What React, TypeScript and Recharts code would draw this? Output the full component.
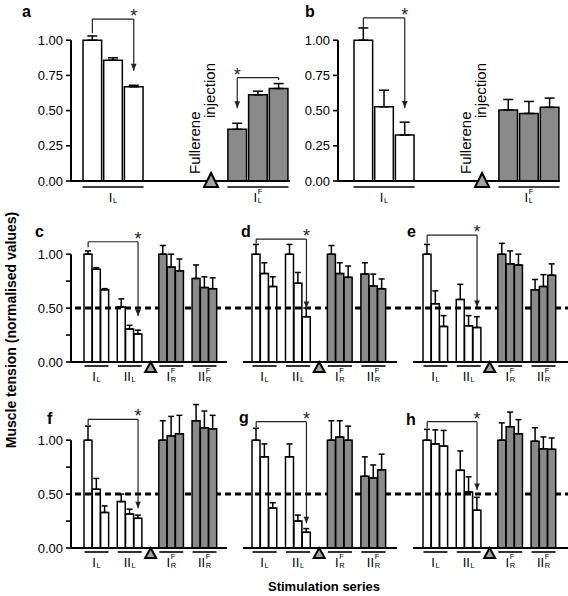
import React from 'react';
import {
  BarChart,
  Bar,
  XAxis,
  YAxis,
  ErrorBar,
  Cell,
  ReferenceLine,
  ReferenceDot,
  ComposedChart,
} from 'recharts';

const FONT = '"Liberation Sans", Arial, Helvetica, sans-serif';
const GRAY = '#8a8a8a';
const TRI_FILL = '#a3a3a3';

// ---------- data ----------
// Panel a: series I_L (S1, S2, S3) then I_L^F
const aWhite = [1.0, 0.858, 0.669];
const aWhiteErr = [0.03, 0.017, 0.011];
const aGray = [0.367, 0.612, 0.657];
const aGrayErr = [0.043, 0.026, 0.035];
// Panel b
const bWhite = [1.0, 0.527, 0.326];
const bWhiteErr = [0.087, 0.118, 0.092];
const bGray = [0.504, 0.48, 0.523];
const bGrayErr = [0.075, 0.085, 0.066];

// Panels c–h, groups in order I_L, II_L, I_R^F, II_R^F (3 stimulations each)
const cValues = [1.0, 0.86, 0.67, 0.51, 0.305, 0.26, 1.0, 0.88, 0.845, 0.775, 0.69, 0.68];
const cErrors = [0.03, 0.015, 0.01, 0.075, 0.035, 0.035, 0.08, 0.12, 0.11, 0.125, 0.1, 0.1];
const dValues = [1.0, 0.82, 0.7, 1.0, 0.73, 0.42, 1.0, 0.82, 0.785, 0.815, 0.705, 0.68];
const dErrors = [0.09, 0.1, 0.09, 0.09, 0.1, 0.08, 0.08, 0.1, 0.105, 0.105, 0.11, 0.09];
const eValues = [1.0, 0.54, 0.33, 0.58, 0.335, 0.32, 1.0, 0.91, 0.9, 0.67, 0.7, 0.805];
const eErrors = [0.09, 0.12, 0.1, 0.14, 0.095, 0.1, 0.1, 0.12, 0.1, 0.095, 0.11, 0.105];
const fValues = [1.0, 0.545, 0.33, 0.43, 0.315, 0.275, 1.0, 1.04, 1.06, 1.18, 1.115, 1.105];
const fErrors = [0.13, 0.1, 0.06, 0.07, 0.045, 0.03, 0.18, 0.18, 0.17, 0.15, 0.155, 0.125];
const gValues = [1.0, 0.845, 0.37, 0.845, 0.25, 0.145, 1.0, 1.03, 1.0, 0.665, 0.65, 0.725];
const gErrors = [0.11, 0.12, 0.05, 0.12, 0.055, 0.035, 0.18, 0.15, 0.13, 0.18, 0.12, 0.145];
const hValues = [1.0, 0.965, 0.945, 0.72, 0.52, 0.35, 1.0, 1.125, 1.06, 0.99, 0.92, 0.915];
const hErrors = [0.1, 0.13, 0.145, 0.18, 0.14, 0.12, 0.16, 0.135, 0.13, 0.125, 0.11, 0.105];

const row1Kinds = ['w', 'w', 'w', 'g', 'g', 'g'];
const row23Kinds = ['w', 'w', 'w', 'w', 'w', 'w', 'g', 'g', 'g', 'g', 'g', 'g'];

type Lab = { main: string; sub: string; sup?: string };
const row1Labels: Lab[] = [
  { main: 'I', sub: 'L' },
  { main: 'I', sub: 'L', sup: 'F' },
];
const row23Labels: Lab[] = [
  { main: 'I', sub: 'L' },
  { main: 'II', sub: 'L' },
  { main: 'I', sub: 'R', sup: 'F' },
  { main: 'II', sub: 'R', sup: 'F' },
];

const row1Ticks = [0, 0.25, 0.5, 0.75, 1];
const row23Ticks = [0, 0.25, 0.5, 0.75, 1];
const row23Labelled = [0, 0.5, 1];
const halfLevel = 0.5;

// significance brackets (bar indices and value levels)
type Bracket = { from: number; to: number; fromY: number; toY: number; level: number; arrow: 'from' | 'to' };
const aBrackets: Bracket[] = [
  { from: 0, to: 2, fromY: 1.05, toY: 0.783, level: 1.15, arrow: 'to' },
  { from: 3, to: 5, fromY: 0.516, toY: 0.717, level: 0.734, arrow: 'from' },
];
const bBrackets: Bracket[] = [{ from: 0, to: 2, fromY: 1.087, toY: 0.518, level: 1.158, arrow: 'to' }];
const cBrackets: Bracket[] = [{ from: 0, to: 5, fromY: 1.063, toY: 0.426, level: 1.115, arrow: 'to' }];
const dBrackets: Bracket[] = [{ from: 0, to: 5, fromY: 1.1, toY: 0.5, level: 1.14, arrow: 'to' }];
const eBrackets: Bracket[] = [{ from: 0, to: 5, fromY: 1.1, toY: 0.51, level: 1.177, arrow: 'to' }];
const fBrackets: Bracket[] = [{ from: 0, to: 5, fromY: 1.14, toY: 0.368, level: 1.193, arrow: 'to' }];
const gBrackets: Bracket[] = [{ from: 0, to: 5, fromY: 1.12, toY: 0.229, level: 1.171, arrow: 'to' }];
const hBrackets: Bracket[] = [{ from: 0, to: 5, fromY: 1.11, toY: 0.538, level: 1.171, arrow: 'to' }];

// ---------- layout ----------
const ROW1_PATTERN: (number | null)[] = [0, 1, 2, null, null, null, null, 3, 4, 5];
const ROW23_PATTERN: (number | null)[] = [0, 1, 2, null, 3, 4, 5, null, null, 6, 7, 8, null, 9, 10, 11];

type Row = { id: string; v: number | null; e?: [number, number]; kind?: string };

function buildSlots(prefix: string, pattern: (number | null)[], values: number[], errors: number[], kinds: string[]): Row[] {
  return pattern.map((bi, i) =>
    bi === null
      ? { id: `${prefix}${i}`, v: null }
      : { id: `${prefix}${i}`, v: values[bi], e: [0, errors[bi]] as [number, number], kind: kinds[bi] }
  );
}

const SUB_FS = 7.5;

function GroupLabel({ cx, y, lab }: { cx: number; y: number; lab: Lab }) {
  const mainW = lab.main.length * 0.278 * 13;
  const subW = (lab.sub === 'R' ? 0.722 : 0.556) * SUB_FS;
  const supW = lab.sup ? 0.611 * SUB_FS : 0;
  const gap = 0.6;
  const total = mainW + gap + Math.max(subW, supW);
  const x0 = cx - total / 2;
  return (
    <text x={x0} y={y} fontFamily={FONT} fill="#000" fontSize={13}>
      <tspan>{lab.main}</tspan>
      <tspan x={x0 + mainW + gap} dy={1} fontSize={SUB_FS}>
        {lab.sub}
      </tspan>
      {lab.sup ? (
        <tspan x={x0 + mainW + gap} dy={-8.6} fontSize={SUB_FS}>
          {lab.sup}
        </tspan>
      ) : null}
    </text>
  );
}

type PanelProps = {
  prefix: string;
  values: number[];
  errors: number[];
  kinds: string[];
  pattern: (number | null)[];
  labels: Lab[];
  brackets: Bracket[];
  left: number;
  top: number;
  width: number;
  height: number;
  marginTop: number;
  xAxisHeight: number;
  showY: boolean;
  yTicks: number[];
  yLabelled?: number[];
  domainMax: number;
  padL: number;
  padR: number;
  triSlot: number;
  triDx: number;
  tri: { up: number; down: number; half: number };
  underlineDy: number;
  labelDy: number;
  capW: number;
  arrowH: number;
};

const Y_W = 71;

function Panel(p: PanelProps) {
  const data = buildSlots(p.prefix, p.pattern, p.values, p.errors, p.kinds);
  const plotW = p.width - (p.showY ? Y_W : 0);
  const slotW = (plotW - p.padL - p.padR) / p.pattern.length;
  const slotId = (barIdx: number) => `${p.prefix}${p.pattern.indexOf(barIdx)}`;
  const labelBySlot: Record<string, Lab> = {};
  p.labels.forEach((lab, g) => {
    labelBySlot[slotId(3 * g + 1)] = lab;
  });

  const renderTick = (t: any) => {
    const lab = labelBySlot[t.payload?.value];
    if (!lab) return <g />;
    const x = t.x;
    const y = t.y;
    return (
      <g>
        <line
          x1={x - 1.5 * slotW + 0.5}
          x2={x + 1.5 * slotW - 0.5}
          y1={y + p.underlineDy}
          y2={y + p.underlineDy}
          stroke="#000"
          strokeWidth={1.6}
        />
        <GroupLabel cx={x} y={y + p.labelDy} lab={lab} />
      </g>
    );
  };

  const fmt = (v: number) => {
    if (p.yLabelled && !p.yLabelled.some((l) => Math.abs(l - v) < 1e-9)) return '';
    return v.toFixed(2);
  };

  const lineStyle = { stroke: '#222', strokeWidth: 1.2 };

  return (
    <div style={{ position: 'absolute', left: p.left, top: p.top }}>
      <BarChart
        width={p.width}
        height={p.height}
        data={data}
        margin={{ top: p.marginTop, right: 0, bottom: 0, left: 0 }}
        barCategoryGap={0}
        barGap={0}
      >
        <XAxis
          dataKey="id"
          type="category"
          interval={0}
          tickLine={false}
          tickSize={0}
          tickMargin={0}
          axisLine={{ stroke: '#000', strokeWidth: 2 }}
          height={p.xAxisHeight}
          padding={{ left: p.padL, right: p.padR }}
          tick={renderTick}
        />
        <XAxis xAxisId="frame" type="number" domain={[0, 1]} hide allowDataOverflow />
        <YAxis
          type="number"
          domain={[0, p.domainMax]}
          allowDataOverflow
          ticks={p.yTicks}
          interval={0}
          hide={!p.showY}
          width={Y_W}
          axisLine={false}
          tickLine={{ stroke: '#000', strokeWidth: 1.6 }}
          tickSize={5}
          tickMargin={3}
          tickFormatter={fmt}
          tick={{ fontSize: 13, fill: '#000', fontFamily: FONT }}
        />
        {p.showY ? (
          <ReferenceLine
            xAxisId="frame"
            segment={[
              { x: 0, y: 0 },
              { x: 0, y: 1 },
            ]}
            stroke="#000"
            strokeWidth={2}
          />
        ) : null}
        <Bar
          dataKey="v"
          isAnimationActive={false}
          stroke="#000"
          strokeWidth={1.5}
          barSize={Math.max(1, Math.round(slotW))}
        >
          {data.map((d, i) => (
            <Cell key={i} fill={d.kind === 'g' ? GRAY : 'none'} />
          ))}
          <ErrorBar
            dataKey="e"
            width={p.capW}
            stroke="#000"
            strokeWidth={1.5}
            direction="y"
            isAnimationActive={false}
          />
        </Bar>
        <ReferenceDot
          x={`${p.prefix}${p.triSlot}`}
          y={0}
          shape={(s: any) => {
            const cx = s.cx + p.triDx;
            const cy = s.cy;
            return (
              <path
                d={`M${cx},${cy - p.tri.up}L${cx + p.tri.half},${cy + p.tri.down}L${cx - p.tri.half},${cy + p.tri.down}Z`}
                fill={TRI_FILL}
                stroke="#000"
                strokeWidth={2}
              />
            );
          }}
        />
        {p.brackets.map((b, k) => {
          const fx = slotId(b.from);
          const tx = slotId(b.to);
          const ax = b.arrow === 'to' ? tx : fx;
          const ay = b.arrow === 'to' ? b.toY : b.fromY;
          return (
            <React.Fragment key={k}>
              <ReferenceLine segment={[{ x: fx, y: b.fromY }, { x: fx, y: b.level }]} {...lineStyle} />
              <ReferenceLine segment={[{ x: fx, y: b.level }, { x: tx, y: b.level }]} {...lineStyle} />
              <ReferenceLine segment={[{ x: tx, y: b.level }, { x: tx, y: b.toY }]} {...lineStyle} />
              <ReferenceDot
                x={ax}
                y={ay}
                shape={(s: any) => (
                  <path
                    d={`M${s.cx - 2.8},${s.cy - p.arrowH}L${s.cx + 2.8},${s.cy - p.arrowH}L${s.cx},${s.cy}Z`}
                    fill="#222"
                  />
                )}
              />
              <ReferenceDot
                x={ax}
                y={b.level}
                shape={(s: any) => (
                  <text x={s.cx} y={s.cy + 3} textAnchor="middle" fontSize={18} fontFamily={FONT} fill="#222">
                    *
                  </text>
                )}
              />
            </React.Fragment>
          );
        })}
      </BarChart>
    </div>
  );
}

function DashRow({ top }: { top: number }) {
  const dashData = [{ x: 0 }, { x: 1 }];
  return (
    <div style={{ position: 'absolute', left: 0, top }}>
      <ComposedChart width={568} height={192} data={dashData} margin={{ top: 11, right: 0, bottom: 30, left: 75 }}>
        <XAxis type="number" dataKey="x" domain={[0, 1]} hide allowDataOverflow />
        <YAxis type="number" domain={[0, 1.4]} hide allowDataOverflow />
        <ReferenceLine y={halfLevel} stroke="#000" strokeWidth={3} strokeDasharray="6 4" />
      </ComposedChart>
    </div>
  );
}

const row1Common = {
  pattern: ROW1_PATTERN,
  kinds: row1Kinds,
  labels: row1Labels,
  top: 0,
  height: 209,
  marginTop: 5,
  xAxisHeight: 28,
  showY: true,
  yTicks: row1Ticks,
  domainMax: 1.25,
  triSlot: 6,
  triDx: -5.5,
  tri: { up: 8, down: 6, half: 7 },
  underlineDy: 6,
  labelDy: 21,
  capW: 5,
  arrowH: 7,
};

const row23Common = {
  pattern: ROW23_PATTERN,
  kinds: row23Kinds,
  labels: row23Labels,
  height: 192,
  marginTop: 11,
  xAxisHeight: 30,
  yTicks: row23Ticks,
  yLabelled: row23Labelled,
  domainMax: 1.4,
  triSlot: 8,
  triDx: -4,
  tri: { up: 0, down: 10, half: 5.5 },
  underlineDy: 4,
  labelDy: 19,
  capW: 3,
  arrowH: 6.5,
};

const colC = { left: 0, width: 227, showY: true, padL: 13, padR: 10 };
const colD = { left: 243, width: 154, showY: false, padL: 9, padR: 11 };
const colE = { left: 413, width: 155, showY: false, padL: 10, padR: 12 };

export default function App() {
  return (
    <div
      style={{
        position: 'absolute',
        left: 0,
        top: 0,
        width: 568,
        height: 596,
        background: '#fff',
        fontFamily: FONT,
        overflow: 'hidden',
      }}
    >
      <DashRow top={200} />
      <DashRow top={386} />

      <Panel
        {...row1Common}
        prefix="a"
        values={[...aWhite, ...aGray]}
        errors={[...aWhiteErr, ...aGrayErr]}
        brackets={aBrackets}
        left={0}
        width={290}
        padL={11}
        padR={1}
      />
      <Panel
        {...row1Common}
        prefix="b"
        values={[...bWhite, ...bGray]}
        errors={[...bWhiteErr, ...bGrayErr]}
        brackets={bBrackets}
        left={267}
        width={293}
        padL={15}
        padR={0}
      />

      <Panel {...row23Common} {...colC} prefix="c" top={200} values={cValues} errors={cErrors} brackets={cBrackets} />
      <Panel {...row23Common} {...colD} prefix="d" top={200} values={dValues} errors={dErrors} brackets={dBrackets} />
      <Panel {...row23Common} {...colE} prefix="e" top={200} values={eValues} errors={eErrors} brackets={eBrackets} />
      <Panel {...row23Common} {...colC} prefix="f" top={386} values={fValues} errors={fErrors} brackets={fBrackets} />
      <Panel {...row23Common} {...colD} prefix="g" top={386} values={gValues} errors={gErrors} brackets={gBrackets} />
      <Panel {...row23Common} {...colE} prefix="h" top={386} values={hValues} errors={hErrors} brackets={hBrackets} />

      <svg
        width={568}
        height={596}
        style={{ position: 'absolute', left: 0, top: 0, pointerEvents: 'none' }}
        fontFamily={FONT}
      >
        <g fontSize={16} fontWeight="bold" fill="#000">
          <text x={22} y={17}>a</text>
          <text x={305} y={17}>b</text>
          <text x={35} y={237}>c</text>
          <text x={241} y={236.5}>d</text>
          <text x={407} y={236.5}>e</text>
          <text x={47} y={424}>f</text>
          <text x={239} y={423}>g</text>
          <text x={406} y={425}>h</text>
        </g>
        <g fontSize={15} fill="#000">
          <text transform="translate(200,174) rotate(-90)">Fullerene</text>
          <text transform="translate(214.5,118) rotate(-90)">injection</text>
          <text transform="translate(471,174) rotate(-90)">Fullerene</text>
          <text transform="translate(485.5,118) rotate(-90)">injection</text>
        </g>
        <text
          transform="translate(11,330) rotate(-90)"
          textAnchor="middle"
          dominantBaseline="central"
          fontSize={14}
          fontWeight="bold"
          fill="#000"
        >
          Muscle tension (normalised values)
        </text>
        <text x={324} y={591} textAnchor="middle" fontSize={13} fontWeight="bold" fill="#000">
          Stimulation series
        </text>
      </svg>
    </div>
  );
}
